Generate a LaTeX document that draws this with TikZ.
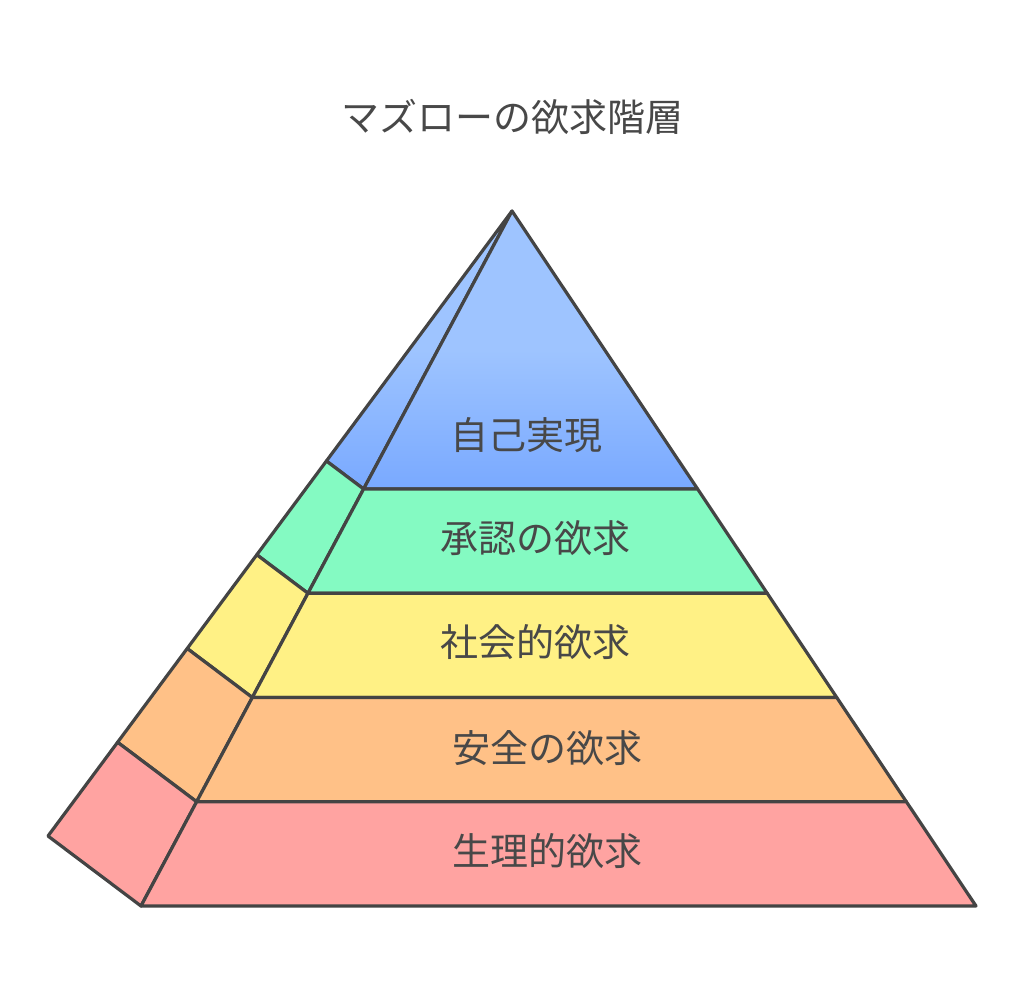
\documentclass[tikz,border=0pt]{standalone}
\usepackage{fontspec}
\setmainfont{Noto Sans CJK JP}
\usepackage{xcolor}
\definecolor{edge}{HTML}{444444}
\definecolor{ink}{HTML}{484848}
\definecolor{toplight}{HTML}{9EC4FF}
\definecolor{topdark}{HTML}{79A9FF}
\definecolor{esteem}{HTML}{84FAC2}
\definecolor{social}{HTML}{FFF185}
\definecolor{safety}{HTML}{FFC187}
\definecolor{body}{HTML}{FFA3A1}
\usepackage{tikz}
\usetikzlibrary{calc}
\tikzset{
    font={\fontsize{38pt}{46pt}\selectfont},
    layer/.style={draw=edge, line width=3.2pt, line join=round},
    tier/.style={text=ink, inner sep=0pt},
    }

\begin{document}
\begin{tikzpicture}
    [x=1pt, y=-1pt]
    \useasboundingbox (0,0) rectangle (1024,1002);
    \coordinate (apex) at (512,211);
    \coordinate (fl) at (141,906);
    \coordinate (fr) at (976,906);
    \coordinate (sl) at (48,836);
    % top layer
    \draw[layer, top color=toplight, bottom color=topdark, middle color=toplight]
        (apex) -- ($(apex)!0.4!(sl)$) -- ($(apex)!0.4!(fl)$) -- cycle;
    \draw[layer, top color=toplight, bottom color=topdark, middle color=toplight]
        (apex) -- ($(apex)!0.4!(fl)$) -- ($(apex)!0.4!(fr)$) -- cycle;
    % lower layers, side face and front face
    \foreach \a/\b/\c in {0.4/0.55/esteem, 0.55/0.7/social,
                          0.7/0.85/safety, 0.85/1/body}
    {
        \draw[layer, fill=\c]
            ($(apex)!\a!(sl)$) -- ($(apex)!\b!(sl)$) --
            ($(apex)!\b!(fl)$) -- ($(apex)!\a!(fl)$) -- cycle;
        \draw[layer, fill=\c]
            ($(apex)!\a!(fl)$) -- ($(apex)!\b!(fl)$) --
            ($(apex)!\b!(fr)$) -- ($(apex)!\a!(fr)$) -- cycle;
    }
    % text
    \node[tier] (title) at (512,117) {マズローの欲求階層};
    \node[tier] (self) at (526,435) {自己実現};
    \node[tier] (respect) at (535,538) {承認の欲求};
    \node[tier] (belong) at (535,642) {社会的欲求};
    \node[tier] (safe) at (547,748) {安全の欲求};
    \node[tier] (needs) at (547,851) {生理的欲求};
\end{tikzpicture}
\end{document}
